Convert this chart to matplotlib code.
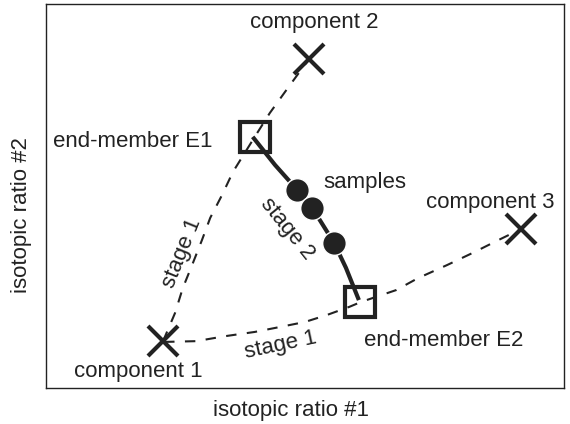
import numpy as np
import matplotlib
matplotlib.use('Agg')
import matplotlib.pyplot as plt

plt.rcParams['font.family'] = ['Liberation Sans', 'DejaVu Sans']

# end-member / component positions (arbitrary isotopic units)
components_x = [2.26, 5.08, 9.17]
components_y = [1.22, 8.57, 4.14]
endmembers_x = [4.03, 6.07]
endmembers_y = [6.54, 2.25]
samples_x = [4.85, 5.14, 5.56]
samples_y = [5.16, 4.69, 3.78]

# stage 1 mixing curves
mix_a_x = [2.26, 2.49, 2.64, 2.82, 3.01, 3.17, 3.40, 3.61, 4.03, 4.32, 4.71, 5.08]
mix_a_y = [1.22, 1.95, 2.60, 3.20, 3.85, 4.43, 5.03, 5.63, 6.54, 7.16, 7.89, 8.57]
mix_b_x = [2.28, 2.90, 3.46, 4.03, 4.52, 5.00, 5.42, 5.85, 6.08, 6.76, 7.18, 7.74, 8.24, 8.73, 9.17]
mix_b_y = [1.20, 1.22, 1.35, 1.46, 1.59, 1.72, 1.90, 2.11, 2.24, 2.55, 2.86, 3.20, 3.52, 3.85, 4.14]
# stage 2 curve between E1 and E2
mix_c_x = [3.99, 4.42, 4.85, 5.14, 5.56, 5.79, 6.04]
mix_c_y = [6.54, 5.81, 5.16, 4.69, 3.78, 3.13, 2.29]

col = '#222222'
fs = 16

fig = plt.figure(figsize=(5.7, 4.24), dpi=100)
ax = fig.add_axes([0.0807, 0.0849, 0.9088, 0.9057])

ax.plot(mix_a_x, mix_a_y, color=col, lw=1.5, ls=(0, (5, 5)), zorder=1)
ax.plot(mix_b_x, mix_b_y, color=col, lw=1.5, ls=(0, (5, 5)), zorder=1)
ax.plot(mix_c_x, mix_c_y, color=col, lw=3, solid_capstyle='butt',
        solid_joinstyle='round', zorder=2)

ax.plot(components_x, components_y, ls='none', marker='x', ms=21, mew=3,
        color=col, zorder=3)
ax.plot(endmembers_x, endmembers_y, ls='none', marker='s', ms=21, mew=3,
        mfc='none', mec=col, zorder=3)
ax.plot(samples_x, samples_y, ls='none', marker='o', ms=17, color=col,
        mec='white', mew=1, zorder=4)

txt = dict(fontsize=fs, color=col, ha='center', va='center')
ax.text(5.17, 9.53, 'component 2', **txt)
ax.text(1.68, 6.41, 'end-member E1', **txt)
ax.text(6.16, 5.36, 'samples', **txt)
ax.text(8.57, 4.82, 'component 3', **txt)
ax.text(1.78, 0.42, 'component 1', **txt)
ax.text(7.68, 1.25, 'end-member E2', **txt)
ax.text(2.63, 3.52, 'stage 1', rotation=68, rotation_mode='anchor', **txt)
ax.text(4.65, 4.14, 'stage 2', rotation=-51, rotation_mode='anchor', **txt)
ax.text(4.52, 1.12, 'stage 1', rotation=12, rotation_mode='anchor', **txt)

ax.set_xlim(0, 10)
ax.set_ylim(0, 10)
ax.set_xticks([])
ax.set_yticks([])
for s in ax.spines.values():
    s.set_linewidth(1.0)
    s.set_color(col)

fig.text(0.511, 0.033, 'isotopic ratio #1', fontsize=fs, color=col,
         ha='center', va='center')
fig.text(0.037, 0.493, 'isotopic ratio #2', fontsize=fs, color=col,
         ha='center', va='center', rotation=90)

fig.savefig('out.png', dpi=100)
